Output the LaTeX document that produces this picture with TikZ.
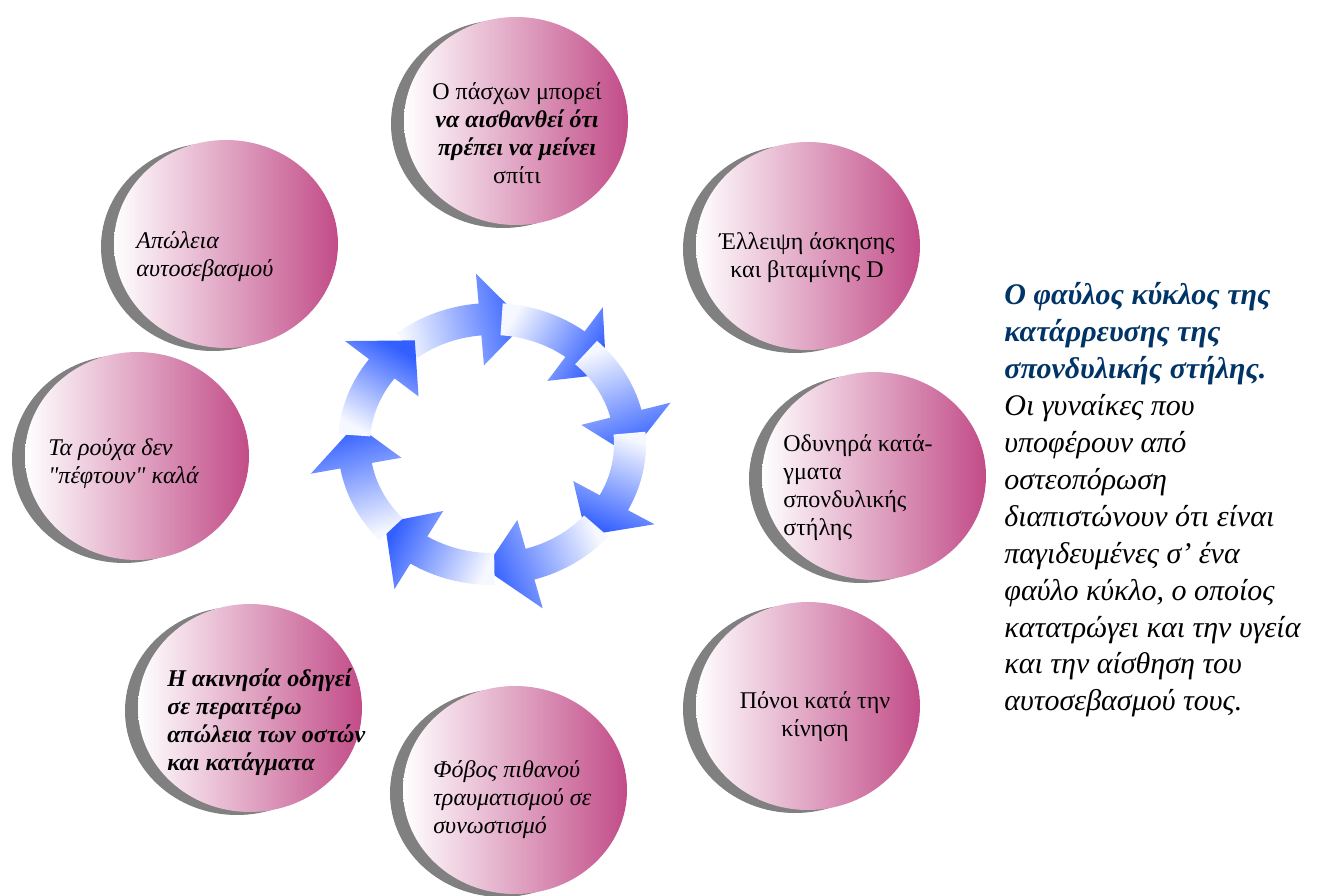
\documentclass[tikz,border=0pt]{standalone}
\usepackage{fontspec}
\setmainfont{Liberation Serif}[Ligatures=TeXOff]
\usetikzlibrary{shapes.geometric,shadows}
\definecolor{bubblepink}{RGB}{194,76,136}
\definecolor{shadowgray}{RGB}{128,128,128}
\definecolor{ringblue}{RGB}{50,95,255}
\definecolor{ringpale}{RGB}{246,248,255}
\definecolor{titleblue}{RGB}{0,51,102}
\tikzset{
  bubble/.style={ellipse, minimum width=112pt, minimum height=104pt, inner sep=0pt,
    left color=white, right color=bubblepink,
    general shadow={fill=shadowgray, shadow xshift=-6.5pt, shadow yshift=-1.5pt}},
  btext/.style={font=\fontsize{12}{14}\selectfont, inner sep=0pt},
  it/.style={font=\fontsize{12}{14}\selectfont\itshape},
  bi/.style={font=\fontsize{12}{14}\selectfont\bfseries\itshape},
}

\begin{document}
\begin{tikzpicture}[x=0.5pt, y=0.5pt]
  \useasboundingbox (0,0) rectangle (1323,895);

  % the eight bubbles
  \node[bubble] (home)   at (516,774) {};
  \node[bubble] (exer)   at (808,649) {};
  \node[bubble] (frac)   at (874,419) {};
  \node[bubble] (pain)   at (808,189) {};
  \node[bubble] (fear)   at (515,105) {};
  \node[bubble] (immob)  at (250,187) {};
  \node[bubble] (cloth)  at (137,439) {};
  \node[bubble] (esteem) at (226,651) {};

  % their texts
  \node[btext, align=center] (home-t) at (517,762)
    {Ο πάσχων μπορεί\\ \textbf{\textit{να αισθανθεί ότι}}\\ \textbf{\textit{πρέπει να μείνει}}\\ σπίτι};
  \node[btext, align=center] (exer-t) at (807,637) {Έλλειψη άσκησης\\ και βιταμίνης D};
  \node[btext, align=left, anchor=west] (frac-t) at (783,407)
    {Οδυνηρά κατά-\\ γματα\\ σπονδυλικής\\ στήλης};
  \node[btext, align=center] (pain-t) at (815,178) {Πόνοι κατά την\\ κίνηση};
  \node[btext, align=left, anchor=west, it] (fear-t) at (433,95)
    {Φόβος πιθανού\\ τραυματισμού σε\\ συνωστισμό};
  \node[btext, align=left, anchor=west, bi] (immob-t) at (167,173)
    {Η ακινησία οδηγεί\\ σε περαιτέρω\\ απώλεια των οστών\\ και κατάγματα};
  \node[btext, align=left, anchor=west, it] (cloth-t) at (48,431)
    {Τα ρούχα δεν\\ "πέφτουν" καλά};
  \node[btext, align=left, anchor=west, it] (esteem-t) at (136,638)
    {Απώλεια\\ αυτοσεβασμού};

  % ring of arrows, clockwise
  \begin{scope}[shift={(492,451)}]
    \foreach \t in {76,34,-5,-47,-93,-141,171,124} {
      \pgfmathsetmacro\h{\t+19}
      \pgfmathsetmacro\e{\t+52}
      \pgfmathsetmacro\s{\t-154}
      \shade[top color=ringblue, bottom color=ringpale, shading angle=\s]
        (\e:154 and 141) arc[start angle=\e, end angle=\h, x radius=154, y radius=141]
        -- (\h:184 and 171) -- (\t:138 and 125) -- (\h:92 and 79)
        -- (\h:122 and 109) arc[start angle=\h, end angle=\e, x radius=122, y radius=109]
        -- cycle;
    }
  \end{scope}

  % caption on the right
  \node[anchor=west, align=left, inner sep=0pt, font=\fontsize{15}{18.45}\selectfont\itshape] (caption) at (1004,395)
    {{\bfseries\color{titleblue}Ο φαύλος κύκλος της}\\
     {\bfseries\color{titleblue}κατάρρευσης της}\\
     {\bfseries\color{titleblue}σπονδυλικής στήλης.}\\
     Οι γυναίκες που\\
     υποφέρουν από\\
     οστεοπόρωση\\
     διαπιστώνουν ότι είναι\\
     παγιδευμένες σ’ ένα\\
     φαύλο κύκλο, ο οποίος\\
     κατατρώγει και την υγεία\\
     και την αίσθηση του\\
     αυτοσεβασμού τους.};
\end{tikzpicture}
\end{document}
